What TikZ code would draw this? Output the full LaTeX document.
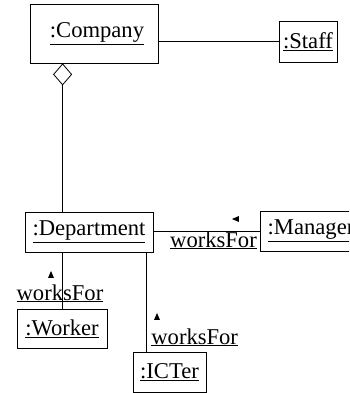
\documentclass[tikz,border=0pt]{standalone}
\usepackage{fontspec}
\setmainfont{Liberation Serif}
\usetikzlibrary{
    arrows.meta,
    shapes.geometric,
    positioning,
    calc
}
\tikzset{%
    % Specifications for style of nodes:
    obj/.style = {
        rectangle, draw=black, line width=0.8pt,
        minimum height=40pt, inner sep=0pt,
        font=\fontsize{22.6}{27}\selectfont, align=center
    },
    role/.style = {font=\fontsize{22.6}{27}\selectfont, inner sep=0pt, anchor=base},
    dirmark/.style = {
        isosceles triangle, isosceles triangle stretches,
        fill=black, inner sep=0pt, minimum height=7pt, minimum width=6pt
    },
    link/.style = {line width=0.8pt},
    aggr/.style = {link, {Diamond[open, width=19pt, length=22pt, line width=0.8pt]}-}
}
\begin{document}
\begin{tikzpicture}[x=1pt, y=-1pt]
    \useasboundingbox (0,0) rectangle (349,393);
    \clip (0,0) rectangle (349,393);
    \node[obj, minimum width=128pt, minimum height=59pt] (company) at (94,33.5) {\hspace{6pt}\underline{:Company}};
    \node[obj, minimum width=58pt, minimum height=41pt] (staff) at (308,41.5) {\underline{:Staff}};
    \node[obj, minimum width=128pt] (dept) at (89,232) {\underline{:Department}};
    \node[obj, minimum width=102pt] (manager) at (311,231) {\underline{:Manager}};
    \node[obj, minimum width=90pt, minimum height=39pt] (worker) at (62,328.5) {\underline{:Worker}};
    \node[obj, minimum width=73pt] (icter) at (169.5,372) {\underline{:ICTer}};
    % links
    \draw[link] (company.east |- staff.west) -- (staff.west);
    \draw[aggr] ([xshift=33pt]company.south west) -- ([xshift=33pt]company.south west |- dept.north);
    \draw[link] (manager.west) -- (manager.west -| dept.east);
    \draw[link] (worker.north) -- (worker.north |- dept.south);
    \draw[link] ([xshift=14pt]icter.north west) -- ([xshift=14pt]icter.north west |- dept.south);
    % roles
    \node[role] (mgrrole) at (213.5,247) {\underline{worksFor}};
    \node[role] (wkrrole) at (60,300) {\underline{worksFor}};
    \node[role] (ictrole) at (194.7,344) {\underline{worksFor}};
    \node[dirmark, shape border rotate=180] (mgrdir) at (237,219) {};
    \node[dirmark, shape border rotate=90] (wkrdir) at (51,276) {};
    \node[dirmark, shape border rotate=90] (ictdir) at (157,318) {};
\end{tikzpicture}
\end{document}
